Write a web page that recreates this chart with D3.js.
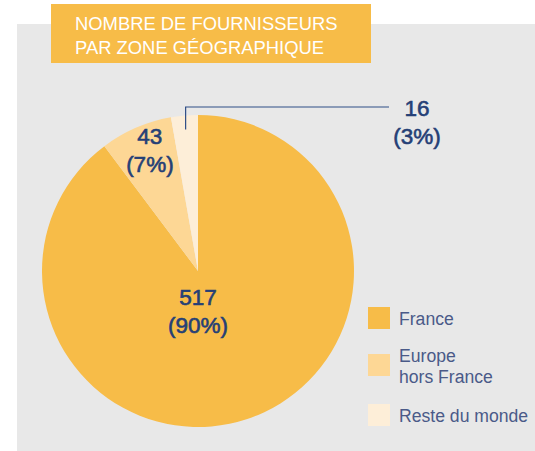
<!DOCTYPE html>
<html>
<head>
<meta charset="utf-8">
<script src="https://cdn.jsdelivr.net/npm/d3@7"></script>
<style>
  body { margin: 0; background: #fff; }
  svg { display: block; font-family: "Liberation Sans", Arial, sans-serif; }
</style>
</head>
<body>
<svg width="535" height="451"></svg>
<script>
// data
var zones = ["France", "Europe hors France", "Reste du monde"];
var counts = [517, 43, 16];
var percents = ["90%", "7%", "3%"];
var legendLines = [["France"], ["Europe", "hors France"], ["Reste du monde"]];
var titleLines = ["NOMBRE DE FOURNISSEURS", "PAR ZONE GÉOGRAPHIQUE"];

// options
var colors = ["#F7BC48", "#FDD795", "#FDEED8"];
var textColor = "#253F76";
var cx = 198, cy = 271, radius = 156;

var svg = d3.select("svg");

// background panel
svg.append("rect")
  .attr("x", 17).attr("y", 24)
  .attr("width", 518).attr("height", 427)
  .attr("fill", "#E8E8E8");

// title box
svg.append("rect")
  .attr("x", 51).attr("y", 4)
  .attr("width", 320).attr("height", 59)
  .attr("fill", "#F7BC48");
svg.append("g").selectAll("text")
  .data(titleLines)
  .enter().append("text")
  .attr("x", 75)
  .attr("y", function(d, i){ return 30 + i * 24; })
  .attr("fill", "#fff")
  .attr("font-size", 18.4)
  .text(function(d){ return d; });

// pie
var pie = d3.pie().sort(null).value(function(d){ return d; });
var arcs = pie(counts);
var arc = d3.arc().innerRadius(0).outerRadius(radius);

var g = svg.append("g").attr("transform", "translate(" + [cx, cy] + ")");
g.selectAll("path")
  .data(arcs)
  .enter().append("path")
  .attr("d", arc)
  .attr("fill", function(d, i){ return colors[i]; });

function label(x, y, i) {
  var t = g.append("text")
    .attr("text-anchor", "middle")
    .attr("fill", textColor)
    .attr("stroke", textColor)
    .attr("stroke-width", 0.6)
    .attr("font-size", 22.5);
  t.append("tspan").attr("x", x).attr("y", y).text(counts[i]);
  t.append("tspan").attr("x", x).attr("y", y + 28).text("(" + percents[i] + ")");
}

// France label near the centre
label(0, 34, 0);

// Europe label inside its slice
var labelArc = d3.arc().innerRadius(121).outerRadius(121);
var ce = labelArc.centroid(arcs[1]);
label(ce[0], ce[1] - 16, 1);

// Reste du monde: leader line
var lineArc = d3.arc().innerRadius(142).outerRadius(142);
var cr = lineArc.centroid(arcs[2]);
var topY = -radius - 8;
g.append("path")
  .attr("d", d3.line()([[cr[0], cr[1]], [cr[0], topY], [191, topY]]))
  .attr("fill", "none")
  .attr("stroke", "#2F4E86")
  .attr("stroke-width", 1.2);
label(219, topY + 9, 2);

// legend
var legend = svg.append("g").attr("transform", "translate(368, 307)");
var legendY = [0, 47, 97];
var item = legend.selectAll("g")
  .data(zones)
  .enter().append("g")
  .attr("transform", function(d, i){ return "translate(0," + legendY[i] + ")"; });
item.append("rect")
  .attr("width", 22).attr("height", 22)
  .attr("fill", function(d, i){ return colors[i]; });
item.append("text")
  .attr("fill", "#4A5A88")
  .attr("font-size", 17.6)
  .each(function(d, i){
    var t = d3.select(this);
    var lines = legendLines[i];
    lines.forEach(function(s, j){
      t.append("tspan")
        .attr("x", 31)
        .attr("y", (lines.length > 1 ? 8 : 18) + j * 21)
        .text(s);
    });
  });
</script>
</body>
</html>
